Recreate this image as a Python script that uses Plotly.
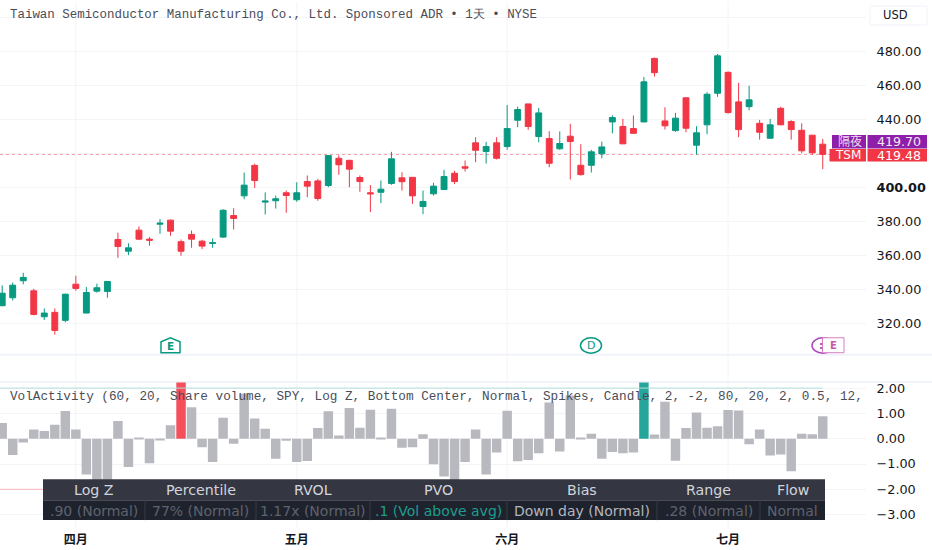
import plotly.graph_objects as go

# ------------------------------------------------------------
# data
# ------------------------------------------------------------
opens = [330.4, 335.1, 345.1, 339.2, 323.9, 326.5, 321.8, 343.1, 326.1, 339,
         338.8, 369.4, 362.5, 374.9, 369.6, 378.4, 380.8, 368.1, 372.4, 368.4,
         367.1, 370.8, 383.5, 395.1, 413, 391.4, 392.2, 396.9, 392.8, 403.5,
         403.9, 401.2, 417.2, 416, 405.9, 396.9, 397.2, 402.4, 405.7, 406,
         388.8, 396.3, 398.8, 408.4, 412.2, 426.3, 421.2, 426.3, 424.1, 439.6,
         449.2, 430, 428.8, 422.8, 430.2, 413.1, 413.1, 419.8, 438.6, 435.9,
         434.7, 438.6, 476, 439.2, 433.5, 452.8, 424.9, 436.9, 455.5, 467.8,
         450.4, 447.6, 437.8, 429, 446.6, 438.8, 433.7, 430.8, 425.5]
closes = [337.8, 342.5, 347.1, 325.3, 326.1, 315.9, 337.2, 340.6, 338.2, 341,
          344.7, 365.3, 364.5, 369.6, 369, 379, 374.3, 362.5, 369.6, 365.5,
          367.5, 386.6, 381.8, 401.4, 404.1, 392, 393.4, 395.3, 396.9, 400.8,
          393.5, 418.8, 413.4, 410.8, 403.5, 396.3, 399, 416.9, 403.4, 395.1,
          391.8, 400.8, 406.5, 403.5, 411.4, 421.9, 424.1, 417.2, 434.7, 445.9,
          435.9, 443.9, 414.3, 425.9, 427.1, 407.6, 421, 423.9, 441.2, 425.7,
          431.9, 462.2, 467.6, 436.3, 440.8, 434.9, 432.2, 454.9, 477.5, 444.1,
          434.1, 451.6, 432.5, 436.9, 436.9, 434.1, 421.6, 420.4, 419.48]
highs = [342.4, 344.1, 349.8, 340.4, 328.8, 328.8, 337.5, 348.1, 341.4, 343.4,
         344.9, 373.4, 367.2, 377.1, 370.8, 381.4, 381.1, 369.4, 374.7, 369.2,
         370, 387.2, 387.8, 408.8, 414, 397.1, 395.3, 398.2, 403.1, 407.1,
         405.1, 419, 419, 416.3, 407.1, 401.4, 404.1, 421, 409, 406.1,
         398.2, 402.8, 410.4, 409.8, 415.9, 429.6, 426.9, 429.6, 448.6, 447.6,
         449.3, 446.9, 433.1, 433, 437.5, 425.5, 422.2, 427, 442.5, 440.4,
         442.4, 465.1, 476.5, 447.2, 443.9, 452.9, 436.1, 456.1, 478.6, 468.3,
         461.6, 460, 439.8, 440.4, 447.5, 439.6, 437.8, 431, 428.6]
lows = [330.2, 333.5, 343, 324.7, 322, 313.4, 320.6, 339.2, 326, 338.1,
        335.1, 358.6, 360.2, 369, 365.7, 372.8, 371.6, 359.8, 364.5, 363.7,
        364.5, 370.4, 375.3, 393.1, 399.8, 384.1, 387.6, 385.1, 391.6, 394.3,
        392.2, 400.2, 407.5, 400.2, 397.5, 385.5, 390.8, 401.6, 398.2, 390.4,
        384.3, 395.3, 398.6, 402, 409.4, 414.9, 414.1, 416.5, 422.2, 435.5,
        434, 426.6, 411.9, 422.2, 404.7, 407, 408.8, 417.2, 431.9, 425.6,
        431.8, 438.5, 465.3, 434.1, 432.8, 432.5, 419.4, 431.4, 453.4, 443.5,
        429.6, 445.5, 428.2, 428.9, 436.7, 428.2, 420.2, 419.2, 410.8]
vol_z = [0.62, -0.64, -0.15, 0.36, 0.30, 0.55, 1.09, 0.36, -1.41, -1.8,
         -1.75, 0.70, -1.12, 0.02, -0.97, -0.05, 0.53, 2.6, 1.24, -0.34,
         -0.92, 0.83, -0.20, 1.78, 0.80, 0.39, -0.79, -0.08, -0.92, -0.88,
         0.42, 1.08, 0.13, 1.21, 0.43, 1.14, 0.05, 1.18, -0.36, -0.34,
         0.18, -1.01, -1.49, -1.7, -0.92, 0.36, -1.41, -0.55, 1.1, -0.89,
         -0.84, -0.57, 1.43, -0.51, 1.71, 0.05, 0.20, -0.79, -0.53, -0.57,
         -0.55, 2.6, 0.17, 1.46, -0.87, 0.42, 1.04, 0.43, 0.49, 1.13,
         1.11, -0.22, 0.36, -0.66, -0.62, -1.29, 0.20, 0.18, 0.89]

month_idx = [7, 28, 48, 69]
month_labels = ["四月", "五月", "六月", "七月"]
price_ticks = [320, 340, 360, 380, 400, 420, 440, 460, 480, 500]
price_labels = ["320.00", "340.00", "360.00", "380.00", "<b>400.00</b>",
                "", "440.00", "460.00", "480.00", ""]
vol_ticks = [-3, -2, -1, 0, 1, 2]
upper_band = 2
lower_band = -2
overnight_price = "419.70"
last_price = "419.48"

table_headers = ["Log Z", "Percentile", "RVOL", "PVO", "Bias", "Range", "Flow"]
table_values = [".90 (Normal)", "77% (Normal)", "1.17x (Normal)", ".1 (Vol above avg)",
                "Down day (Normal)", ".28 (Normal)", "Normal"]

title_text = "Taiwan Semiconductor Manufacturing Co., Ltd. Sponsored ADR • 1天 • NYSE"
legend_text = ("VolActivity (60, 20, Share volume, SPY, Log Z, Bottom Center, Normal, "
               "Spikes, Candle, 2, -2, 80, 20, 2, 0.5, 12,")

# ------------------------------------------------------------
# page geometry, in pixels of the 932x550 window
# ------------------------------------------------------------
W, H = 932, 550
PLOT_R = 866
PRICE_BOTTOM = 354
VOL_TOP = 382
VOL_BOTTOM = 528
BAR_STEP = 10.52
BAR_X0 = 2.2

UP = "#089981"
DOWN = "#f23645"
GRID = "#f3f4f6"
SEP = "#f0f3fa"
TEXT = "#131722"
SANS = "DejaVu Sans"
MONO = "Liberation Mono"


def px(x):
    return x / W


def py(y):
    return 1 - y / H


def rect(x0, y0, x1, y1, color, line=None, layer="above"):
    return dict(type="rect", xref="paper", yref="paper",
                x0=px(x0), x1=px(x1), y0=py(y0), y1=py(y1),
                fillcolor=color, layer=layer,
                line=dict(color=line or color, width=1 if line else 0))


def hline(y, color, width=2):
    return dict(type="line", xref="paper", yref="paper", x0=0, x1=1, y0=py(y), y1=py(y),
                line=dict(color=color, width=width), layer="below")


def label(x, y, text, size=12, color=TEXT, anchor="center", family=SANS):
    return dict(xref="paper", yref="paper", x=px(x), y=py(y), text=text, showarrow=False,
                xanchor=anchor, yanchor="middle", font=dict(family=family, size=size, color=color),
                xshift=0, yshift=0, borderpad=0)


idx = list(range(len(closes)))
bar_colors = []
for o, c, v in zip(opens, closes, vol_z):
    if v > upper_band:
        bar_colors.append("#f44f5a" if c < o else "#26a69a")
    else:
        bar_colors.append("#b8b9bf")

fig = go.Figure()

fig.add_trace(go.Candlestick(
    x=idx, open=opens, high=highs, low=lows, close=closes, yaxis="y",
    increasing=dict(line=dict(color=UP, width=1), fillcolor=UP),
    decreasing=dict(line=dict(color=DOWN, width=1), fillcolor=DOWN),
    showlegend=False
))
fig.add_trace(go.Bar(x=idx, y=vol_z, yaxis="y2", marker=dict(color=bar_colors, line=dict(width=0)),
                     showlegend=False))
fig.add_trace(go.Scatter(x=[-1, idx[-1]], y=[upper_band, upper_band], yaxis="y2", mode="lines",
                         line=dict(color="#b2dfdb", width=1), showlegend=False))
fig.add_trace(go.Scatter(x=[-1, idx[-1]], y=[lower_band, lower_band], yaxis="y2", mode="lines",
                         line=dict(color="#f7b5ba", width=1), showlegend=False))

# panes and month lines
shapes = [hline(PRICE_BOTTOM, SEP), hline(VOL_TOP - 0.5, SEP)]
for m in month_idx:
    shapes.append(dict(type="line", xref="x", yref="paper", x0=m, x1=m, y0=py(VOL_BOTTOM), y1=1,
                       line=dict(color=GRID, width=1), layer="below"))

# last price line
shapes.append(dict(type="line", xref="paper", yref="y", x0=0, x1=px(PLOT_R),
                   y0=closes[-1], y1=closes[-1],
                   line=dict(color="#f59aa2", width=1, dash="dot"), layer="below"))

# stats table at the bottom of the indicator
col_edges = [43, 145, 256, 370, 507, 657, 760, 825]
shapes.append(rect(col_edges[0], 479, col_edges[-1], 500, "#343741"))
shapes.append(rect(col_edges[0], 500, col_edges[-1], 520, "#1e222d"))
for e in col_edges[1:-1]:
    shapes.append(dict(type="line", xref="paper", yref="paper", x0=px(e), x1=px(e),
                       y0=py(500), y1=py(520), line=dict(color="#363a45", width=1)))

# price labels on the right
shapes.append(rect(832, 133.5, 866, 147, "#8e1fa8"))
shapes.append(rect(867.5, 133.5, 927, 147, "#8e1fa8"))
shapes.append(rect(829.5, 147.5, 866, 160, DOWN))
shapes.append(rect(867.5, 147.5, 927, 160, DOWN))

# USD button
shapes.append(rect(870, 4, 927, 23, "#ffffff", line="#f0f3fa"))

# event markers
e_path = "M {} {} L {} {} L {} {} L {} {} L {} {} Z".format(
    px(161), py(352), px(161), py(341), px(170.5), py(337), px(180), py(341), px(180), py(352))
shapes.append(dict(type="path", xref="paper", yref="paper", path=e_path,
                   line=dict(color="#089981", width=1.5), fillcolor="#ffffff"))
shapes.append(dict(type="circle", xref="paper", yref="paper", x0=px(580.5), x1=px(601.5),
                   y0=py(337), y1=py(352.5), line=dict(color="#089981", width=1.5)))
shapes.append(dict(type="circle", xref="paper", yref="paper", x0=px(812), x1=px(834),
                   y0=py(337), y1=py(352.5), line=dict(color="#ab47bc", width=1.5)))
shapes.append(rect(822.5, 337, 844, 352, "#ffffff", line="#d77fc0"))

annotations = [
    label(9, 13.5, title_text, size=12.45, color="#4a4d58", anchor="left", family=MONO),
    label(9, 396, legend_text, size=12.7, color="#4a4d58", anchor="left", family=MONO),
    label(895, 13.5, "USD", size=11.5),
    label(849.5, 140.5, "隔夜", size=12, color="#eedcf2", family="DejaVu Sans, Noto Sans CJK TC"),
    label(899, 140.5, overnight_price, size=12.6, color="#f3e5f5"),
    label(848, 154, "TSM", size=12, color="#ffffff"),
    label(899, 154, last_price, size=12.6, color="#ffffff"),
    label(170.5, 345.5, "<b>E</b>", size=10.5, color="#089981"),
    label(591, 345, "D", size=11, color="#089981"),
    label(820.5, 345, "<b>:</b>", size=10, color="#ab47bc"),
    label(833, 345, "<b>E</b>", size=10, color="#c558a8"),
]

value_colors = ["#5f626d", "#5f626d", "#5f626d", "#1f9d8f", "#b2b5be", "#5f626d", "#5f626d"]
for i, (head, val) in enumerate(zip(table_headers, table_values)):
    mid = (col_edges[i] + col_edges[i + 1]) / 2
    annotations.append(label(mid, 490, head, size=14.2, color="#d1d4dc"))
    annotations.append(label(mid, 510.5, val, size=14, color=value_colors[i]))

fig.update_layout(
    width=W,
    height=H,
    margin=dict(l=0, r=0, t=0, b=0),
    paper_bgcolor="#ffffff",
    plot_bgcolor="#ffffff",
    showlegend=False,
    boxgap=0.2,
    bargap=0.1,
    shapes=shapes,
    annotations=annotations,
    xaxis=dict(
        domain=[0, px(PLOT_R)],
        range=[(0 - BAR_X0) / BAR_STEP, (PLOT_R - BAR_X0) / BAR_STEP],
        anchor="y2",
        rangeslider=dict(visible=False),
        showgrid=False,
        zeroline=False,
        tickmode="array",
        tickvals=month_idx,
        ticktext=["<b>" + m + "</b>" for m in month_labels],
        tickfont=dict(family="Noto Sans CJK SC", size=12, color=TEXT),
        ticks="outside",
        ticklen=1,
        tickcolor="rgba(0,0,0,0)",
    ),
    yaxis=dict(
        domain=[py(PRICE_BOTTOM), 1],
        range=[509.2 - PRICE_BOTTOM / 1.705, 509.2],
        side="right",
        anchor="x",
        tickmode="array",
        tickvals=price_ticks,
        ticktext=price_labels,
        tickfont=dict(family=SANS, size=12.8, color=TEXT),
        showgrid=True,
        gridcolor=GRID,
        zeroline=False,
        ticks="outside",
        ticklen=7,
        tickcolor="rgba(0,0,0,0)",
    ),
    yaxis2=dict(
        domain=[py(VOL_BOTTOM), py(VOL_TOP)],
        range=[(438.3 - VOL_BOTTOM) / 25.4, (438.3 - VOL_TOP) / 25.4],
        side="right",
        anchor="x",
        tickmode="array",
        tickvals=vol_ticks,
        tickformat=".2f",
        tickfont=dict(family=SANS, size=12.8, color=TEXT),
        showgrid=True,
        gridcolor=GRID,
        zeroline=False,
        ticks="outside",
        ticklen=7,
        tickcolor="rgba(0,0,0,0)",
    ),
)

fig.write_html("out.html", config={"displayModeBar": False},
               post_script="document.body.style.margin='0';")
